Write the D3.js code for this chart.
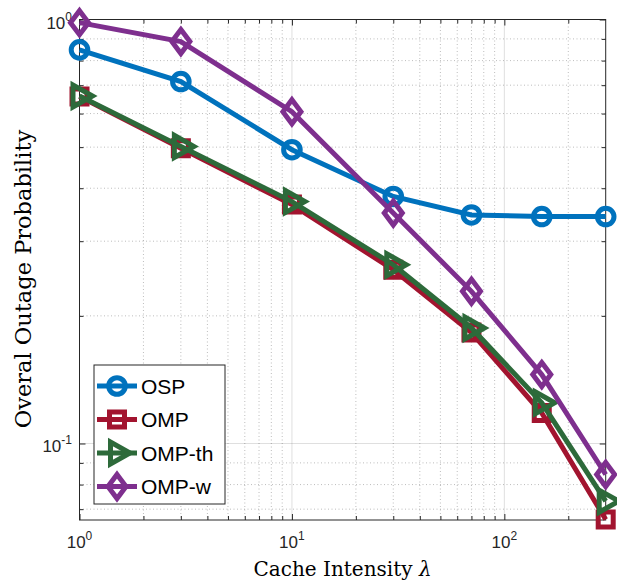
<!DOCTYPE html>
<html>
<head>
<meta charset="utf-8">
<script src="https://cdn.jsdelivr.net/npm/d3@7"></script>
<style>
  body { margin: 0; background: #fff; }
  svg { display: block; }
</style>
</head>
<body>
<svg id="chart" width="617" height="584"></svg>
<script>
// Cache intensity values (x) and outage probability per scheme
const lambda = [1, 3, 10, 30, 70, 150, 300];
const osp    = [0.848, 0.714, 0.493, 0.3825, 0.346, 0.343, 0.343];
const omp    = [0.658, 0.497, 0.366, 0.257, 0.1826, 0.118, 0.0662];
const ompTh  = [0.660, 0.502, 0.372, 0.264, 0.1873, 0.1247, 0.0731];
const ompW   = [0.983, 0.887, 0.606, 0.3495, 0.2285, 0.1454, 0.0845];

const seriesNames   = ["OSP", "OMP", "OMP-th", "OMP-w"];
const seriesValues  = [osp, omp, ompTh, ompW];
const seriesColors  = ["#0072BD", "#A2142F", "#2D6A3A", "#7E2F8E"];
const seriesMarkers = ["circle", "square", "triangle", "diamond"];

const xMajorTicks = [1, 10, 100];
const xTickLabels = [["10", "0"], ["10", "1"], ["10", "2"]];
const xMinorTicks = [2, 3, 4, 5, 6, 7, 8, 9, 20, 30, 40, 50, 60, 70, 80, 90, 200];
const yMajorTicks = [0.1, 1];
const yTickLabels = [["10", "-1"], ["10", "0"]];
const yMinorTicks = [0.07, 0.08, 0.09, 0.2, 0.3, 0.4, 0.5, 0.6, 0.7, 0.8, 0.9];

const xLabel = "Cache Intensity ";
const xLabelSymbol = "λ";
const yLabel = "Overal Outage Probability";

// Plot frame
const L = 79.5, R = 605.7, T = 19.5, B = 520;
const axisColor = "#262626";

const svg = d3.select("#chart");
const x = d3.scaleLog().domain([1, 300]).range([L, R]);
const y = d3.scaleLog().domain([0.066, 1]).range([B, T]);

// Grid: minor dotted, major solid
const grid = svg.append("g");
grid.selectAll(".gxm").data(xMinorTicks).join("line")
  .attr("x1", d => x(d)).attr("x2", d => x(d)).attr("y1", T).attr("y2", B)
  .attr("stroke", axisColor).attr("stroke-opacity", 0.3).attr("stroke-width", 1)
  .attr("stroke-dasharray", "1,2.5");
grid.selectAll(".gym").data(yMinorTicks).join("line")
  .attr("y1", d => y(d)).attr("y2", d => y(d)).attr("x1", L).attr("x2", R)
  .attr("stroke", axisColor).attr("stroke-opacity", 0.3).attr("stroke-width", 1)
  .attr("stroke-dasharray", "1,2.5");
grid.selectAll(".gxM").data(xMajorTicks.filter(d => d > 1)).join("line")
  .attr("x1", d => x(d)).attr("x2", d => x(d)).attr("y1", T).attr("y2", B)
  .attr("stroke", axisColor).attr("stroke-opacity", 0.15).attr("stroke-width", 1);
grid.selectAll(".gyM").data(yMajorTicks.filter(d => d < 1)).join("line")
  .attr("y1", d => y(d)).attr("y2", d => y(d)).attr("x1", L).attr("x2", R)
  .attr("stroke", axisColor).attr("stroke-opacity", 0.15).attr("stroke-width", 1);

// Axes with inward ticks on all four sides
function styleAxis(g) {
  g.select(".domain").remove();
  g.selectAll(".tick line").attr("stroke", axisColor);
  g.selectAll("text").remove();
}
svg.append("g").attr("transform", `translate(0,${B})`)
  .call(d3.axisBottom(x).tickValues(xMajorTicks).tickSize(-6)).call(styleAxis);
svg.append("g").attr("transform", `translate(0,${B})`)
  .call(d3.axisBottom(x).tickValues(xMinorTicks).tickSize(-4)).call(styleAxis);
svg.append("g").attr("transform", `translate(0,${T})`)
  .call(d3.axisTop(x).tickValues(xMajorTicks).tickSize(-6)).call(styleAxis);
svg.append("g").attr("transform", `translate(0,${T})`)
  .call(d3.axisTop(x).tickValues(xMinorTicks).tickSize(-4)).call(styleAxis);
svg.append("g").attr("transform", `translate(${L},0)`)
  .call(d3.axisLeft(y).tickValues(yMajorTicks).tickSize(-6)).call(styleAxis);
svg.append("g").attr("transform", `translate(${L},0)`)
  .call(d3.axisLeft(y).tickValues(yMinorTicks).tickSize(-4)).call(styleAxis);
svg.append("g").attr("transform", `translate(${R},0)`)
  .call(d3.axisRight(y).tickValues(yMajorTicks).tickSize(-6)).call(styleAxis);
svg.append("g").attr("transform", `translate(${R},0)`)
  .call(d3.axisRight(y).tickValues(yMinorTicks).tickSize(-4)).call(styleAxis);

svg.append("rect").attr("x", L).attr("y", T).attr("width", R - L).attr("height", B - T)
  .attr("fill", "none").attr("stroke", axisColor).attr("stroke-width", 1);

// Tick labels with superscript exponents
const tickFont = "'Liberation Sans', Arial, Helvetica, sans-serif";
function powerLabel(sel, base, exp) {
  sel.append("tspan").text(base);
  sel.append("tspan").attr("dy", -8).attr("font-size", 12).text(exp);
}
xMajorTicks.forEach((v, i) => {
  const t = svg.append("text").attr("x", x(v)).attr("y", 548)
    .attr("text-anchor", "middle").attr("font-family", tickFont)
    .attr("font-size", 17).attr("fill", axisColor);
  powerLabel(t, xTickLabels[i][0], xTickLabels[i][1]);
});
yMajorTicks.forEach((v, i) => {
  const t = svg.append("text").attr("x", 72).attr("y", y(v) + 9)
    .attr("text-anchor", "end").attr("font-family", tickFont)
    .attr("font-size", 17).attr("fill", axisColor);
  powerLabel(t, yTickLabels[i][0], yTickLabels[i][1]);
});

// Axis titles
const serif = "'DejaVu Serif', 'Liberation Serif', serif";
const xl = svg.append("text").attr("x", (L + R) / 2).attr("y", 576)
  .attr("text-anchor", "middle").attr("font-family", serif)
  .attr("font-size", 20).attr("fill", "#000");
xl.append("tspan").text(xLabel);
xl.append("tspan").attr("font-style", "italic").text(xLabelSymbol);

svg.append("text")
  .attr("transform", `translate(31,279) rotate(-90)`)
  .attr("text-anchor", "middle").attr("font-family", serif)
  .attr("font-size", 22.5).attr("fill", "#000").text(yLabel);

// Marker shapes
function markerPath(kind) {
  switch (kind) {
    case "circle":   return "M8.3,0A8.3,8.3 0 1,1 -8.3,0A8.3,8.3 0 1,1 8.3,0Z";
    case "square":   return "M-7.5,-7.5H7.5V7.5H-7.5Z";
    case "triangle": return "M-6.5,-11L-6.5,11L13,0Z";
    case "diamond":  return "M0,-12L9,0L0,12L-9,0Z";
  }
}

const line = d3.line().x(d => x(d[0])).y(d => y(d[1]));
const lineWidth = 5;

seriesValues.forEach((vals, i) => {
  const pts = lambda.map((l, j) => [l, vals[j]]);
  const g = svg.append("g");
  g.append("path").datum(pts).attr("d", line)
    .attr("fill", "none").attr("stroke", seriesColors[i])
    .attr("stroke-width", lineWidth).attr("stroke-linejoin", "miter");
  g.selectAll("path.m").data(pts).join("path").attr("class", "m")
    .attr("transform", d => `translate(${x(d[0])},${y(d[1])})`)
    .attr("d", markerPath(seriesMarkers[i]))
    .attr("fill", "none").attr("stroke", seriesColors[i])
    .attr("stroke-width", lineWidth).attr("stroke-linejoin", "miter");
});

// Legend
const lg = svg.append("g");
lg.append("rect").attr("x", 94).attr("y", 365).attr("width", 131).attr("height", 139)
  .attr("fill", "#fff").attr("stroke", axisColor).attr("stroke-width", 1);
seriesNames.forEach((name, i) => {
  const cy = 386 + i * 33.5;
  lg.append("line").attr("x1", 97).attr("x2", 137).attr("y1", cy).attr("y2", cy)
    .attr("stroke", seriesColors[i]).attr("stroke-width", lineWidth);
  lg.append("path").attr("transform", `translate(117,${cy})`)
    .attr("d", markerPath(seriesMarkers[i]))
    .attr("fill", "none").attr("stroke", seriesColors[i])
    .attr("stroke-width", lineWidth).attr("stroke-linejoin", "miter");
  lg.append("text").attr("x", 141).attr("y", cy + 7.5)
    .attr("font-family", tickFont).attr("font-size", 21).attr("fill", "#000")
    .text(name);
});
</script>
</body>
</html>
